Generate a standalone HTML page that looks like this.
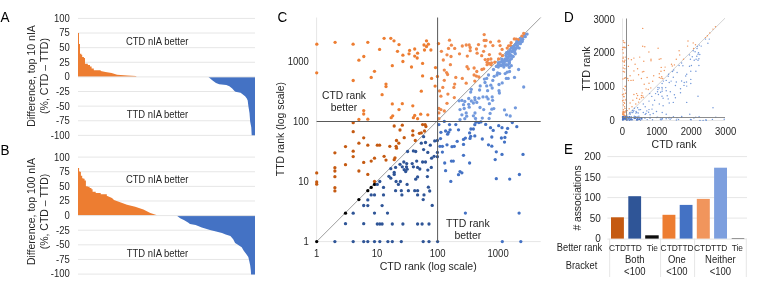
<!DOCTYPE html>
<html><head><meta charset="utf-8"><style>
html,body{margin:0;padding:0;background:#fff;width:764px;height:292px;overflow:hidden}
svg{display:block;will-change:transform;filter:blur(0.3px)}
text{font-family:"Liberation Sans", sans-serif;stroke:currentColor;stroke-width:0}
</style></head><body>
<svg width="764" height="292" viewBox="0 0 764 292" shape-rendering="auto">
<rect width="764" height="292" fill="#fff"/>
<line x1="78.00" y1="18.42" x2="255.00" y2="18.42" stroke="#e6e6e6" stroke-width="1"/>
<text transform="translate(69.80 21.82) scale(1 1.08)" font-size="9.5" text-anchor="end" fill="#262626" stroke="#262626" stroke-width="0.08">100</text>
<line x1="78.00" y1="33.04" x2="255.00" y2="33.04" stroke="#e6e6e6" stroke-width="1"/>
<text transform="translate(69.80 36.44) scale(1 1.08)" font-size="9.5" text-anchor="end" fill="#262626" stroke="#262626" stroke-width="0.08">75</text>
<line x1="78.00" y1="47.66" x2="255.00" y2="47.66" stroke="#e6e6e6" stroke-width="1"/>
<text transform="translate(69.80 51.06) scale(1 1.08)" font-size="9.5" text-anchor="end" fill="#262626" stroke="#262626" stroke-width="0.08">50</text>
<line x1="78.00" y1="62.28" x2="255.00" y2="62.28" stroke="#e6e6e6" stroke-width="1"/>
<text transform="translate(69.80 65.68) scale(1 1.08)" font-size="9.5" text-anchor="end" fill="#262626" stroke="#262626" stroke-width="0.08">25</text>
<text transform="translate(69.80 80.30) scale(1 1.08)" font-size="9.5" text-anchor="end" fill="#262626" stroke="#262626" stroke-width="0.08">0</text>
<line x1="78.00" y1="91.52" x2="255.00" y2="91.52" stroke="#e6e6e6" stroke-width="1"/>
<text transform="translate(69.80 94.92) scale(1 1.08)" font-size="9.5" text-anchor="end" fill="#262626" stroke="#262626" stroke-width="0.08">-25</text>
<line x1="78.00" y1="106.14" x2="255.00" y2="106.14" stroke="#e6e6e6" stroke-width="1"/>
<text transform="translate(69.80 109.54) scale(1 1.08)" font-size="9.5" text-anchor="end" fill="#262626" stroke="#262626" stroke-width="0.08">-50</text>
<line x1="78.00" y1="120.76" x2="255.00" y2="120.76" stroke="#e6e6e6" stroke-width="1"/>
<text transform="translate(69.80 124.16) scale(1 1.08)" font-size="9.5" text-anchor="end" fill="#262626" stroke="#262626" stroke-width="0.08">-75</text>
<line x1="78.00" y1="135.38" x2="255.00" y2="135.38" stroke="#e6e6e6" stroke-width="1"/>
<text transform="translate(69.80 138.78) scale(1 1.08)" font-size="9.5" text-anchor="end" fill="#262626" stroke="#262626" stroke-width="0.08">-100</text>
<polygon points="78.00,76.90 78.00,33.00 79.00,33.00 79.00,44.00 80.00,44.00 80.00,53.80 81.30,53.80 81.30,54.70 82.20,54.70 82.20,57.10 83.90,57.10 83.90,58.00 85.00,58.00 85.00,63.70 87.80,63.70 87.80,64.90 90.00,64.90 90.00,66.50 91.60,66.50 91.60,68.60 93.80,68.60 93.80,70.30 100.70,70.30 100.70,71.10 105.50,72.10 111.60,73.00 117.10,74.70 127.40,75.40 136.00,76.00 136.50,76.90 136.50,76.90" fill="#ED7D31"/>
<polygon points="208.50,76.90 208.50,76.90 210.50,78.70 212.90,80.70 216.00,83.00 219.20,84.20 226.30,85.00 229.40,86.20 232.20,88.50 234.50,90.90 235.50,91.70 240.60,92.80 245.10,96.20 246.80,98.40 247.70,100.60 248.40,106.20 249.50,112.90 250.20,121.80 251.30,127.40 251.70,135.20 255.00,135.20 255.00,76.90" fill="#4472C4"/>
<line x1="78.00" y1="76.90" x2="255.00" y2="76.90" stroke="#e6e6e6" stroke-width="1"/>
<text transform="translate(0.60 21.60) scale(1 1.04)" font-size="13.5" text-anchor="start" fill="#000" stroke="#000" stroke-width="0.08">A</text>
<text transform="translate(34.80 76.00) rotate(-90) scale(1 1.04)" font-size="10.55" text-anchor="middle" fill="#262626" stroke="#262626" stroke-width="0.08">Difference, top 10 nIA</text>
<text transform="translate(47.60 76.00) rotate(-90) scale(1 1.04)" font-size="10.55" text-anchor="middle" fill="#262626" stroke="#262626" stroke-width="0.08">(%, CTD – TTD)</text>
<text transform="translate(125.90 44.50) scale(1 1.08)" font-size="9.45" text-anchor="start" fill="#262626" stroke="#262626" stroke-width="0.08">CTD nIA better</text>
<text transform="translate(126.80 117.90) scale(1 1.08)" font-size="9.45" text-anchor="start" fill="#262626" stroke="#262626" stroke-width="0.08">TTD nIA better</text>
<line x1="78.00" y1="157.12" x2="255.00" y2="157.12" stroke="#e6e6e6" stroke-width="1"/>
<text transform="translate(69.80 160.52) scale(1 1.08)" font-size="9.5" text-anchor="end" fill="#262626" stroke="#262626" stroke-width="0.08">100</text>
<line x1="78.00" y1="171.74" x2="255.00" y2="171.74" stroke="#e6e6e6" stroke-width="1"/>
<text transform="translate(69.80 175.14) scale(1 1.08)" font-size="9.5" text-anchor="end" fill="#262626" stroke="#262626" stroke-width="0.08">75</text>
<line x1="78.00" y1="186.36" x2="255.00" y2="186.36" stroke="#e6e6e6" stroke-width="1"/>
<text transform="translate(69.80 189.76) scale(1 1.08)" font-size="9.5" text-anchor="end" fill="#262626" stroke="#262626" stroke-width="0.08">50</text>
<line x1="78.00" y1="200.98" x2="255.00" y2="200.98" stroke="#e6e6e6" stroke-width="1"/>
<text transform="translate(69.80 204.38) scale(1 1.08)" font-size="9.5" text-anchor="end" fill="#262626" stroke="#262626" stroke-width="0.08">25</text>
<text transform="translate(69.80 219.00) scale(1 1.08)" font-size="9.5" text-anchor="end" fill="#262626" stroke="#262626" stroke-width="0.08">0</text>
<line x1="78.00" y1="230.22" x2="255.00" y2="230.22" stroke="#e6e6e6" stroke-width="1"/>
<text transform="translate(69.80 233.62) scale(1 1.08)" font-size="9.5" text-anchor="end" fill="#262626" stroke="#262626" stroke-width="0.08">-25</text>
<line x1="78.00" y1="244.84" x2="255.00" y2="244.84" stroke="#e6e6e6" stroke-width="1"/>
<text transform="translate(69.80 248.24) scale(1 1.08)" font-size="9.5" text-anchor="end" fill="#262626" stroke="#262626" stroke-width="0.08">-50</text>
<line x1="78.00" y1="259.46" x2="255.00" y2="259.46" stroke="#e6e6e6" stroke-width="1"/>
<text transform="translate(69.80 262.86) scale(1 1.08)" font-size="9.5" text-anchor="end" fill="#262626" stroke="#262626" stroke-width="0.08">-75</text>
<line x1="78.00" y1="274.08" x2="255.00" y2="274.08" stroke="#e6e6e6" stroke-width="1"/>
<text transform="translate(69.80 277.48) scale(1 1.08)" font-size="9.5" text-anchor="end" fill="#262626" stroke="#262626" stroke-width="0.08">-100</text>
<polygon points="78.00,215.60 78.00,168.00 79.10,168.00 79.10,171.40 80.30,171.40 80.30,172.00 80.90,172.00 80.90,175.70 82.20,175.70 82.20,178.20 83.40,178.20 83.40,178.80 84.60,178.80 84.60,180.60 85.90,180.60 85.90,186.20 87.70,186.20 87.70,186.80 89.60,186.80 89.60,188.00 91.40,188.00 91.40,189.30 92.60,189.30 92.60,191.70 95.70,191.70 95.70,193.00 100.70,193.00 100.70,194.20 106.80,194.20 106.80,195.80 112.00,197.90 114.00,199.90 127.00,204.70 135.20,206.70 143.40,209.50 150.30,212.90 157.10,215.30 157.10,215.60" fill="#ED7D31"/>
<polygon points="176.60,215.60 176.60,215.60 180.20,218.20 184.30,220.30 188.40,222.80 190.00,223.90 195.60,224.90 201.80,227.50 210.00,230.00 216.10,231.60 222.00,233.10 225.70,234.40 230.40,236.00 233.20,239.20 235.10,242.90 237.90,244.80 241.70,247.30 243.60,250.50 246.40,254.20 248.30,257.10 249.20,260.80 250.20,265.60 250.80,270.30 251.10,274.40 255.00,274.40 255.00,215.60" fill="#4472C4"/>
<line x1="78.00" y1="215.60" x2="255.00" y2="215.60" stroke="#e6e6e6" stroke-width="1"/>
<text transform="translate(0.60 154.50) scale(1 1.04)" font-size="13.5" text-anchor="start" fill="#000" stroke="#000" stroke-width="0.08">B</text>
<text transform="translate(34.80 211.50) rotate(-90) scale(1 1.04)" font-size="10.5" text-anchor="middle" fill="#262626" stroke="#262626" stroke-width="0.08">Difference, top 100 nIA</text>
<text transform="translate(47.60 211.50) rotate(-90) scale(1 1.04)" font-size="10.5" text-anchor="middle" fill="#262626" stroke="#262626" stroke-width="0.08">(%, CTD – TTD)</text>
<text transform="translate(125.90 183.20) scale(1 1.08)" font-size="9.45" text-anchor="start" fill="#262626" stroke="#262626" stroke-width="0.08">CTD nIA better</text>
<text transform="translate(126.80 256.60) scale(1 1.08)" font-size="9.45" text-anchor="start" fill="#262626" stroke="#262626" stroke-width="0.08">TTD nIA better</text>
<line x1="316.60" y1="17.50" x2="316.60" y2="241.60" stroke="#e6e6e6" stroke-width="1"/>
<line x1="316.60" y1="241.60" x2="540.70" y2="241.60" stroke="#e6e6e6" stroke-width="1"/>
<line x1="316.60" y1="241.60" x2="540.70" y2="17.50" stroke="#8a8a8a" stroke-width="0.85"/>
<circle cx="524.7" cy="34.4" r="1.65" fill="#739ADD"/>
<circle cx="527.1" cy="34.1" r="1.65" fill="#739ADD"/>
<circle cx="522.8" cy="36.5" r="1.65" fill="#739ADD"/>
<circle cx="525.3" cy="36.7" r="1.65" fill="#739ADD"/>
<circle cx="520.3" cy="39.0" r="1.65" fill="#739ADD"/>
<circle cx="522.7" cy="39.3" r="1.65" fill="#739ADD"/>
<circle cx="518.3" cy="41.3" r="1.65" fill="#739ADD"/>
<circle cx="520.7" cy="41.2" r="1.65" fill="#739ADD"/>
<circle cx="522.2" cy="41.5" r="1.65" fill="#739ADD"/>
<circle cx="516.1" cy="43.7" r="1.65" fill="#739ADD"/>
<circle cx="518.6" cy="43.2" r="1.65" fill="#739ADD"/>
<circle cx="520.4" cy="43.7" r="1.65" fill="#739ADD"/>
<circle cx="515.7" cy="45.2" r="1.65" fill="#739ADD"/>
<circle cx="512.0" cy="47.5" r="1.65" fill="#739ADD"/>
<circle cx="514.0" cy="47.6" r="1.65" fill="#739ADD"/>
<circle cx="516.5" cy="48.1" r="1.65" fill="#739ADD"/>
<circle cx="519.2" cy="48.1" r="1.65" fill="#739ADD"/>
<circle cx="514.8" cy="50.4" r="1.65" fill="#739ADD"/>
<circle cx="508.2" cy="51.8" r="1.65" fill="#739ADD"/>
<circle cx="512.3" cy="51.7" r="1.65" fill="#739ADD"/>
<circle cx="508.6" cy="54.2" r="1.65" fill="#739ADD"/>
<circle cx="510.4" cy="54.6" r="1.65" fill="#739ADD"/>
<circle cx="515.3" cy="53.8" r="1.65" fill="#739ADD"/>
<circle cx="506.8" cy="57.0" r="1.65" fill="#739ADD"/>
<circle cx="509.2" cy="56.3" r="1.65" fill="#739ADD"/>
<circle cx="511.1" cy="56.0" r="1.65" fill="#739ADD"/>
<circle cx="513.2" cy="56.6" r="1.65" fill="#739ADD"/>
<circle cx="501.7" cy="59.1" r="1.65" fill="#739ADD"/>
<circle cx="504.9" cy="59.1" r="1.65" fill="#739ADD"/>
<circle cx="506.7" cy="58.7" r="1.65" fill="#739ADD"/>
<circle cx="511.4" cy="58.8" r="1.65" fill="#739ADD"/>
<circle cx="502.4" cy="61.1" r="1.65" fill="#739ADD"/>
<circle cx="504.6" cy="61.4" r="1.65" fill="#739ADD"/>
<circle cx="507.2" cy="60.4" r="1.65" fill="#739ADD"/>
<circle cx="509.5" cy="60.4" r="1.65" fill="#739ADD"/>
<circle cx="498.4" cy="62.7" r="1.65" fill="#739ADD"/>
<circle cx="503.1" cy="63.0" r="1.65" fill="#739ADD"/>
<circle cx="509.3" cy="63.3" r="1.65" fill="#739ADD"/>
<circle cx="498.6" cy="65.4" r="1.65" fill="#739ADD"/>
<circle cx="500.8" cy="65.1" r="1.65" fill="#739ADD"/>
<circle cx="503.3" cy="65.1" r="1.65" fill="#739ADD"/>
<circle cx="505.8" cy="64.8" r="1.65" fill="#739ADD"/>
<circle cx="508.1" cy="65.1" r="1.65" fill="#739ADD"/>
<circle cx="316.8" cy="44.2" r="1.65" fill="#ED7D31"/>
<circle cx="335.1" cy="42.3" r="1.65" fill="#ED7D31"/>
<circle cx="353.1" cy="44.2" r="1.65" fill="#ED7D31"/>
<circle cx="358.9" cy="60.2" r="1.65" fill="#ED7D31"/>
<circle cx="363.8" cy="56.5" r="1.65" fill="#ED7D31"/>
<circle cx="316.7" cy="72.8" r="1.65" fill="#ED7D31"/>
<circle cx="353.2" cy="80.5" r="1.65" fill="#ED7D31"/>
<circle cx="363.7" cy="110.6" r="1.65" fill="#ED7D31"/>
<circle cx="363.7" cy="114.0" r="1.65" fill="#ED7D31"/>
<circle cx="358.9" cy="119.4" r="1.65" fill="#ED7D31"/>
<circle cx="353.2" cy="122.7" r="1.65" fill="#C55A11"/>
<circle cx="353.2" cy="131.7" r="1.65" fill="#C55A11"/>
<circle cx="363.7" cy="137.8" r="1.65" fill="#C55A11"/>
<circle cx="358.9" cy="143.2" r="1.65" fill="#C55A11"/>
<circle cx="345.5" cy="146.6" r="1.65" fill="#C55A11"/>
<circle cx="334.9" cy="152.8" r="1.65" fill="#C55A11"/>
<circle cx="353.2" cy="151.2" r="1.65" fill="#C55A11"/>
<circle cx="353.2" cy="156.6" r="1.65" fill="#C55A11"/>
<circle cx="363.7" cy="162.4" r="1.65" fill="#C55A11"/>
<circle cx="345.5" cy="164.7" r="1.65" fill="#C55A11"/>
<circle cx="334.9" cy="167.7" r="1.65" fill="#C55A11"/>
<circle cx="334.9" cy="171.0" r="1.65" fill="#C55A11"/>
<circle cx="358.9" cy="171.0" r="1.65" fill="#C55A11"/>
<circle cx="316.7" cy="172.9" r="1.65" fill="#C55A11"/>
<circle cx="334.9" cy="176.7" r="1.65" fill="#C55A11"/>
<circle cx="316.7" cy="181.9" r="1.65" fill="#C55A11"/>
<circle cx="316.7" cy="184.2" r="1.65" fill="#C55A11"/>
<circle cx="334.9" cy="187.7" r="1.65" fill="#C55A11"/>
<circle cx="334.9" cy="190.9" r="1.65" fill="#C55A11"/>
<circle cx="316.7" cy="241.6" r="1.65" fill="#000"/>
<circle cx="345.5" cy="213.2" r="1.65" fill="#000"/>
<circle cx="358.9" cy="199.6" r="1.65" fill="#000"/>
<circle cx="353.2" cy="213.2" r="1.65" fill="#2F5597"/>
<circle cx="363.7" cy="205.5" r="1.65" fill="#2F5597"/>
<circle cx="345.5" cy="223.7" r="1.65" fill="#2F5597"/>
<circle cx="363.7" cy="223.7" r="1.65" fill="#2F5597"/>
<circle cx="334.9" cy="241.6" r="1.65" fill="#2F5597"/>
<circle cx="353.2" cy="241.6" r="1.65" fill="#2F5597"/>
<circle cx="363.7" cy="241.6" r="1.65" fill="#2F5597"/>
<circle cx="367.8" cy="42.3" r="1.65" fill="#ED7D31"/>
<circle cx="384.1" cy="38.3" r="1.65" fill="#ED7D31"/>
<circle cx="390.8" cy="38.3" r="1.65" fill="#ED7D31"/>
<circle cx="394.0" cy="40.8" r="1.65" fill="#ED7D31"/>
<circle cx="399.0" cy="44.6" r="1.65" fill="#ED7D31"/>
<circle cx="379.6" cy="49.4" r="1.65" fill="#ED7D31"/>
<circle cx="397.5" cy="51.3" r="1.65" fill="#ED7D31"/>
<circle cx="402.9" cy="55.2" r="1.65" fill="#ED7D31"/>
<circle cx="402.9" cy="61.5" r="1.65" fill="#ED7D31"/>
<circle cx="409.6" cy="50.4" r="1.65" fill="#ED7D31"/>
<circle cx="409.0" cy="53.8" r="1.65" fill="#ED7D31"/>
<circle cx="414.7" cy="49.0" r="1.65" fill="#ED7D31"/>
<circle cx="414.7" cy="56.1" r="1.65" fill="#ED7D31"/>
<circle cx="417.6" cy="53.2" r="1.65" fill="#ED7D31"/>
<circle cx="417.2" cy="58.0" r="1.65" fill="#ED7D31"/>
<circle cx="392.3" cy="65.7" r="1.65" fill="#ED7D31"/>
<circle cx="411.5" cy="67.0" r="1.65" fill="#ED7D31"/>
<circle cx="374.5" cy="71.3" r="1.65" fill="#ED7D31"/>
<circle cx="371.2" cy="77.4" r="1.65" fill="#ED7D31"/>
<circle cx="386.0" cy="84.1" r="1.65" fill="#ED7D31"/>
<circle cx="386.0" cy="86.6" r="1.65" fill="#ED7D31"/>
<circle cx="382.1" cy="94.7" r="1.65" fill="#ED7D31"/>
<circle cx="392.3" cy="103.9" r="1.65" fill="#ED7D31"/>
<circle cx="402.3" cy="103.7" r="1.65" fill="#ED7D31"/>
<circle cx="412.8" cy="105.8" r="1.65" fill="#ED7D31"/>
<circle cx="399.0" cy="109.6" r="1.65" fill="#ED7D31"/>
<circle cx="392.7" cy="115.8" r="1.65" fill="#ED7D31"/>
<circle cx="391.2" cy="117.7" r="1.65" fill="#ED7D31"/>
<circle cx="414.7" cy="115.4" r="1.65" fill="#ED7D31"/>
<circle cx="413.4" cy="117.7" r="1.65" fill="#ED7D31"/>
<circle cx="367.8" cy="119.2" r="1.65" fill="#ED7D31"/>
<circle cx="417.6" cy="118.7" r="1.65" fill="#ED7D31"/>
<circle cx="394.2" cy="126.0" r="1.65" fill="#C55A11"/>
<circle cx="402.3" cy="125.2" r="1.65" fill="#C55A11"/>
<circle cx="400.0" cy="130.0" r="1.65" fill="#C55A11"/>
<circle cx="412.8" cy="130.8" r="1.65" fill="#C55A11"/>
<circle cx="412.8" cy="135.2" r="1.65" fill="#C55A11"/>
<circle cx="404.2" cy="137.7" r="1.65" fill="#C55A11"/>
<circle cx="396.5" cy="140.5" r="1.65" fill="#C55A11"/>
<circle cx="398.8" cy="143.2" r="1.65" fill="#C55A11"/>
<circle cx="415.3" cy="140.5" r="1.65" fill="#C55A11"/>
<circle cx="367.8" cy="145.2" r="1.65" fill="#C55A11"/>
<circle cx="377.3" cy="145.2" r="1.65" fill="#C55A11"/>
<circle cx="379.6" cy="145.2" r="1.65" fill="#C55A11"/>
<circle cx="389.8" cy="146.3" r="1.65" fill="#C55A11"/>
<circle cx="396.1" cy="146.3" r="1.65" fill="#C55A11"/>
<circle cx="396.5" cy="148.2" r="1.65" fill="#C55A11"/>
<circle cx="384.1" cy="156.3" r="1.65" fill="#C55A11"/>
<circle cx="374.5" cy="158.2" r="1.65" fill="#C55A11"/>
<circle cx="371.2" cy="161.1" r="1.65" fill="#C55A11"/>
<circle cx="386.0" cy="160.1" r="1.65" fill="#C55A11"/>
<circle cx="395.0" cy="157.8" r="1.65" fill="#C55A11"/>
<circle cx="394.2" cy="159.7" r="1.65" fill="#C55A11"/>
<circle cx="407.6" cy="151.5" r="1.65" fill="#2F5597"/>
<circle cx="413.4" cy="150.9" r="1.65" fill="#2F5597"/>
<circle cx="415.7" cy="151.5" r="1.65" fill="#2F5597"/>
<circle cx="403.8" cy="162.0" r="1.65" fill="#2F5597"/>
<circle cx="406.7" cy="163.6" r="1.65" fill="#2F5597"/>
<circle cx="412.2" cy="163.6" r="1.65" fill="#2F5597"/>
<circle cx="416.7" cy="161.1" r="1.65" fill="#2F5597"/>
<circle cx="400.0" cy="164.3" r="1.65" fill="#2F5597"/>
<circle cx="402.3" cy="166.8" r="1.65" fill="#2F5597"/>
<circle cx="406.5" cy="166.8" r="1.65" fill="#2F5597"/>
<circle cx="395.6" cy="167.4" r="1.65" fill="#2F5597"/>
<circle cx="390.8" cy="168.7" r="1.65" fill="#2F5597"/>
<circle cx="413.4" cy="166.8" r="1.65" fill="#2F5597"/>
<circle cx="404.2" cy="169.7" r="1.65" fill="#2F5597"/>
<circle cx="417.6" cy="167.4" r="1.65" fill="#2F5597"/>
<circle cx="367.8" cy="174.4" r="1.65" fill="#C55A11"/>
<circle cx="374.5" cy="181.5" r="1.65" fill="#C55A11"/>
<circle cx="367.8" cy="190.7" r="1.65" fill="#000"/>
<circle cx="371.2" cy="187.4" r="1.65" fill="#000"/>
<circle cx="374.5" cy="184.4" r="1.65" fill="#000"/>
<circle cx="377.3" cy="184.4" r="1.65" fill="#2F5597"/>
<circle cx="379.8" cy="181.5" r="1.65" fill="#2F5597"/>
<circle cx="383.5" cy="187.4" r="1.65" fill="#2F5597"/>
<circle cx="371.2" cy="194.9" r="1.65" fill="#2F5597"/>
<circle cx="374.5" cy="194.9" r="1.65" fill="#2F5597"/>
<circle cx="383.5" cy="194.9" r="1.65" fill="#2F5597"/>
<circle cx="367.8" cy="199.9" r="1.65" fill="#2F5597"/>
<circle cx="367.8" cy="205.6" r="1.65" fill="#2F5597"/>
<circle cx="382.1" cy="205.6" r="1.65" fill="#2F5597"/>
<circle cx="374.5" cy="213.1" r="1.65" fill="#2F5597"/>
<circle cx="387.5" cy="213.1" r="1.65" fill="#2F5597"/>
<circle cx="388.9" cy="176.3" r="1.65" fill="#2F5597"/>
<circle cx="390.8" cy="178.2" r="1.65" fill="#2F5597"/>
<circle cx="394.2" cy="172.5" r="1.65" fill="#2F5597"/>
<circle cx="394.2" cy="174.4" r="1.65" fill="#2F5597"/>
<circle cx="407.1" cy="169.2" r="1.65" fill="#2F5597"/>
<circle cx="405.7" cy="171.5" r="1.65" fill="#2F5597"/>
<circle cx="415.7" cy="179.2" r="1.65" fill="#2F5597"/>
<circle cx="417.6" cy="176.9" r="1.65" fill="#2F5597"/>
<circle cx="396.1" cy="181.5" r="1.65" fill="#2F5597"/>
<circle cx="400.4" cy="181.5" r="1.65" fill="#2F5597"/>
<circle cx="398.4" cy="184.4" r="1.65" fill="#2F5597"/>
<circle cx="407.1" cy="184.4" r="1.65" fill="#2F5597"/>
<circle cx="395.6" cy="190.7" r="1.65" fill="#2F5597"/>
<circle cx="401.3" cy="190.7" r="1.65" fill="#2F5597"/>
<circle cx="408.4" cy="190.7" r="1.65" fill="#2F5597"/>
<circle cx="414.7" cy="190.7" r="1.65" fill="#2F5597"/>
<circle cx="417.6" cy="190.7" r="1.65" fill="#2F5597"/>
<circle cx="401.9" cy="194.9" r="1.65" fill="#2F5597"/>
<circle cx="417.6" cy="194.9" r="1.65" fill="#2F5597"/>
<circle cx="377.3" cy="224.0" r="1.65" fill="#2F5597"/>
<circle cx="379.8" cy="224.0" r="1.65" fill="#2F5597"/>
<circle cx="382.1" cy="224.0" r="1.65" fill="#2F5597"/>
<circle cx="392.3" cy="224.0" r="1.65" fill="#2F5597"/>
<circle cx="402.9" cy="224.0" r="1.65" fill="#2F5597"/>
<circle cx="417.6" cy="224.0" r="1.65" fill="#2F5597"/>
<circle cx="367.8" cy="241.6" r="1.65" fill="#2F5597"/>
<circle cx="374.5" cy="241.6" r="1.65" fill="#2F5597"/>
<circle cx="379.8" cy="241.6" r="1.65" fill="#2F5597"/>
<circle cx="387.9" cy="241.6" r="1.65" fill="#2F5597"/>
<circle cx="392.3" cy="241.6" r="1.65" fill="#2F5597"/>
<circle cx="401.3" cy="241.6" r="1.65" fill="#2F5597"/>
<circle cx="422.6" cy="63.4" r="1.65" fill="#ED7D31"/>
<circle cx="424.0" cy="45.0" r="1.65" fill="#ED7D31"/>
<circle cx="426.5" cy="40.8" r="1.65" fill="#ED7D31"/>
<circle cx="428.4" cy="44.2" r="1.65" fill="#ED7D31"/>
<circle cx="426.5" cy="46.5" r="1.65" fill="#ED7D31"/>
<circle cx="424.5" cy="50.0" r="1.65" fill="#ED7D31"/>
<circle cx="430.9" cy="50.0" r="1.65" fill="#ED7D31"/>
<circle cx="438.5" cy="43.6" r="1.65" fill="#ED7D31"/>
<circle cx="441.4" cy="51.3" r="1.65" fill="#EF8A4C"/>
<circle cx="443.3" cy="60.0" r="1.65" fill="#EF8A4C"/>
<circle cx="449.5" cy="40.2" r="1.65" fill="#EF8A4C"/>
<circle cx="451.4" cy="45.2" r="1.65" fill="#EF8A4C"/>
<circle cx="448.5" cy="48.4" r="1.65" fill="#EF8A4C"/>
<circle cx="454.7" cy="48.4" r="1.65" fill="#EF8A4C"/>
<circle cx="447.0" cy="54.8" r="1.65" fill="#EF8A4C"/>
<circle cx="451.0" cy="56.5" r="1.65" fill="#EF8A4C"/>
<circle cx="450.4" cy="64.7" r="1.65" fill="#EF8A4C"/>
<circle cx="459.5" cy="53.8" r="1.65" fill="#EF8A4C"/>
<circle cx="462.3" cy="46.0" r="1.65" fill="#EF8A4C"/>
<circle cx="466.2" cy="45.0" r="1.65" fill="#EF8A4C"/>
<circle cx="469.2" cy="45.0" r="1.65" fill="#EF8A4C"/>
<circle cx="467.3" cy="56.1" r="1.65" fill="#EF8A4C"/>
<circle cx="435.5" cy="67.6" r="1.65" fill="#ED7D31"/>
<circle cx="422.6" cy="75.9" r="1.65" fill="#ED7D31"/>
<circle cx="431.6" cy="78.4" r="1.65" fill="#ED7D31"/>
<circle cx="437.4" cy="76.5" r="1.65" fill="#ED7D31"/>
<circle cx="444.3" cy="70.1" r="1.65" fill="#EF8A4C"/>
<circle cx="446.6" cy="72.6" r="1.65" fill="#EF8A4C"/>
<circle cx="447.6" cy="74.5" r="1.65" fill="#EF8A4C"/>
<circle cx="444.3" cy="80.3" r="1.65" fill="#EF8A4C"/>
<circle cx="455.8" cy="77.4" r="1.65" fill="#EF8A4C"/>
<circle cx="462.3" cy="78.4" r="1.65" fill="#EF8A4C"/>
<circle cx="468.3" cy="68.8" r="1.65" fill="#EF8A4C"/>
<circle cx="454.7" cy="84.1" r="1.65" fill="#EF8A4C"/>
<circle cx="466.2" cy="83.2" r="1.65" fill="#EF8A4C"/>
<circle cx="435.1" cy="86.1" r="1.65" fill="#ED7D31"/>
<circle cx="442.8" cy="87.4" r="1.65" fill="#EF8A4C"/>
<circle cx="453.9" cy="87.4" r="1.65" fill="#EF8A4C"/>
<circle cx="421.3" cy="91.2" r="1.65" fill="#ED7D31"/>
<circle cx="439.5" cy="90.9" r="1.65" fill="#EF8A4C"/>
<circle cx="447.9" cy="94.1" r="1.65" fill="#EF8A4C"/>
<circle cx="440.9" cy="96.2" r="1.65" fill="#EF8A4C"/>
<circle cx="454.3" cy="97.6" r="1.65" fill="#EF8A4C"/>
<circle cx="447.0" cy="103.3" r="1.65" fill="#EF8A4C"/>
<circle cx="438.9" cy="108.5" r="1.65" fill="#EF8A4C"/>
<circle cx="440.9" cy="109.6" r="1.65" fill="#EF8A4C"/>
<circle cx="444.3" cy="111.0" r="1.65" fill="#EF8A4C"/>
<circle cx="438.9" cy="112.9" r="1.65" fill="#EF8A4C"/>
<circle cx="420.7" cy="114.2" r="1.65" fill="#ED7D31"/>
<circle cx="427.8" cy="114.8" r="1.65" fill="#ED7D31"/>
<circle cx="438.9" cy="118.7" r="1.65" fill="#EF8A4C"/>
<circle cx="459.1" cy="100.8" r="1.65" fill="#739ADD"/>
<circle cx="461.9" cy="100.4" r="1.65" fill="#739ADD"/>
<circle cx="464.8" cy="101.4" r="1.65" fill="#739ADD"/>
<circle cx="468.7" cy="98.5" r="1.65" fill="#739ADD"/>
<circle cx="463.5" cy="104.7" r="1.65" fill="#739ADD"/>
<circle cx="468.7" cy="104.3" r="1.65" fill="#739ADD"/>
<circle cx="460.0" cy="109.6" r="1.65" fill="#739ADD"/>
<circle cx="464.2" cy="108.5" r="1.65" fill="#739ADD"/>
<circle cx="469.2" cy="107.2" r="1.65" fill="#739ADD"/>
<circle cx="466.2" cy="112.9" r="1.65" fill="#739ADD"/>
<circle cx="461.9" cy="114.8" r="1.65" fill="#739ADD"/>
<circle cx="466.7" cy="116.2" r="1.65" fill="#739ADD"/>
<circle cx="464.8" cy="118.7" r="1.65" fill="#739ADD"/>
<circle cx="460.0" cy="119.6" r="1.65" fill="#739ADD"/>
<circle cx="422.6" cy="124.6" r="1.65" fill="#C55A11"/>
<circle cx="425.1" cy="124.6" r="1.65" fill="#C55A11"/>
<circle cx="425.9" cy="126.5" r="1.65" fill="#C55A11"/>
<circle cx="424.5" cy="131.0" r="1.65" fill="#C55A11"/>
<circle cx="419.4" cy="133.3" r="1.65" fill="#C55A11"/>
<circle cx="421.3" cy="132.9" r="1.65" fill="#C55A11"/>
<circle cx="423.6" cy="136.7" r="1.65" fill="#2F5597"/>
<circle cx="421.3" cy="143.2" r="1.65" fill="#2F5597"/>
<circle cx="425.5" cy="142.5" r="1.65" fill="#2F5597"/>
<circle cx="430.3" cy="145.2" r="1.65" fill="#2F5597"/>
<circle cx="434.7" cy="140.9" r="1.65" fill="#2F5597"/>
<circle cx="437.4" cy="140.5" r="1.65" fill="#2F5597"/>
<circle cx="423.6" cy="149.6" r="1.65" fill="#2F5597"/>
<circle cx="427.8" cy="152.4" r="1.65" fill="#2F5597"/>
<circle cx="434.1" cy="156.3" r="1.65" fill="#2F5597"/>
<circle cx="431.6" cy="158.2" r="1.65" fill="#2F5597"/>
<circle cx="437.4" cy="152.4" r="1.65" fill="#2F5597"/>
<circle cx="422.6" cy="162.0" r="1.65" fill="#2F5597"/>
<circle cx="425.5" cy="162.0" r="1.65" fill="#2F5597"/>
<circle cx="431.3" cy="167.4" r="1.65" fill="#2F5597"/>
<circle cx="427.8" cy="170.1" r="1.65" fill="#2F5597"/>
<circle cx="438.9" cy="124.6" r="1.65" fill="#4472C4"/>
<circle cx="444.3" cy="121.4" r="1.65" fill="#4472C4"/>
<circle cx="449.5" cy="124.6" r="1.65" fill="#4472C4"/>
<circle cx="455.8" cy="124.6" r="1.65" fill="#4472C4"/>
<circle cx="440.9" cy="132.3" r="1.65" fill="#4472C4"/>
<circle cx="445.6" cy="131.0" r="1.65" fill="#4472C4"/>
<circle cx="448.5" cy="132.3" r="1.65" fill="#4472C4"/>
<circle cx="447.6" cy="134.2" r="1.65" fill="#4472C4"/>
<circle cx="450.1" cy="129.8" r="1.65" fill="#4472C4"/>
<circle cx="458.5" cy="129.8" r="1.65" fill="#4472C4"/>
<circle cx="469.6" cy="132.9" r="1.65" fill="#4472C4"/>
<circle cx="440.5" cy="138.6" r="1.65" fill="#4472C4"/>
<circle cx="465.4" cy="138.1" r="1.65" fill="#4472C4"/>
<circle cx="463.5" cy="139.4" r="1.65" fill="#4472C4"/>
<circle cx="457.2" cy="141.3" r="1.65" fill="#4472C4"/>
<circle cx="439.9" cy="146.3" r="1.65" fill="#4472C4"/>
<circle cx="442.4" cy="146.3" r="1.65" fill="#4472C4"/>
<circle cx="447.0" cy="144.8" r="1.65" fill="#4472C4"/>
<circle cx="452.0" cy="146.7" r="1.65" fill="#4472C4"/>
<circle cx="454.3" cy="146.3" r="1.65" fill="#4472C4"/>
<circle cx="463.5" cy="144.4" r="1.65" fill="#4472C4"/>
<circle cx="442.4" cy="152.1" r="1.65" fill="#4472C4"/>
<circle cx="437.4" cy="156.7" r="1.65" fill="#2F5597"/>
<circle cx="463.5" cy="155.3" r="1.65" fill="#4472C4"/>
<circle cx="451.4" cy="161.1" r="1.65" fill="#4472C4"/>
<circle cx="453.3" cy="161.1" r="1.65" fill="#4472C4"/>
<circle cx="444.7" cy="163.0" r="1.65" fill="#4472C4"/>
<circle cx="469.6" cy="163.0" r="1.65" fill="#4472C4"/>
<circle cx="445.6" cy="170.7" r="1.65" fill="#4472C4"/>
<circle cx="460.0" cy="171.6" r="1.65" fill="#4472C4"/>
<circle cx="419.8" cy="169.0" r="1.65" fill="#2F5597"/>
<circle cx="427.4" cy="176.6" r="1.65" fill="#2F5597"/>
<circle cx="428.4" cy="187.2" r="1.65" fill="#2F5597"/>
<circle cx="429.7" cy="191.0" r="1.65" fill="#2F5597"/>
<circle cx="424.0" cy="194.9" r="1.65" fill="#2F5597"/>
<circle cx="423.2" cy="199.6" r="1.65" fill="#2F5597"/>
<circle cx="432.2" cy="205.4" r="1.65" fill="#2F5597"/>
<circle cx="458.5" cy="174.7" r="1.65" fill="#4472C4"/>
<circle cx="461.9" cy="172.8" r="1.65" fill="#4472C4"/>
<circle cx="450.8" cy="181.4" r="1.65" fill="#4472C4"/>
<circle cx="465.4" cy="213.1" r="1.65" fill="#4472C4"/>
<circle cx="422.1" cy="224.0" r="1.65" fill="#2F5597"/>
<circle cx="429.0" cy="224.0" r="1.65" fill="#2F5597"/>
<circle cx="423.2" cy="241.6" r="1.65" fill="#2F5597"/>
<circle cx="429.0" cy="241.6" r="1.65" fill="#2F5597"/>
<circle cx="437.6" cy="241.6" r="1.65" fill="#2F5597"/>
<circle cx="470.2" cy="47.5" r="1.65" fill="#EF8A4C"/>
<circle cx="470.2" cy="50.7" r="1.65" fill="#EF8A4C"/>
<circle cx="474.1" cy="68.0" r="1.65" fill="#EF8A4C"/>
<circle cx="476.5" cy="49.0" r="1.65" fill="#EF8A4C"/>
<circle cx="477.1" cy="53.2" r="1.65" fill="#EF8A4C"/>
<circle cx="478.5" cy="44.6" r="1.65" fill="#EF8A4C"/>
<circle cx="481.7" cy="55.7" r="1.65" fill="#EF8A4C"/>
<circle cx="483.6" cy="51.3" r="1.65" fill="#EF8A4C"/>
<circle cx="484.2" cy="34.6" r="1.65" fill="#EF8A4C"/>
<circle cx="484.2" cy="40.4" r="1.65" fill="#EF8A4C"/>
<circle cx="486.1" cy="40.4" r="1.65" fill="#EF8A4C"/>
<circle cx="485.2" cy="46.1" r="1.65" fill="#EF8A4C"/>
<circle cx="485.2" cy="59.6" r="1.65" fill="#EF8A4C"/>
<circle cx="487.1" cy="62.2" r="1.65" fill="#EF8A4C"/>
<circle cx="489.4" cy="54.6" r="1.65" fill="#EF8A4C"/>
<circle cx="490.5" cy="42.1" r="1.65" fill="#EF8A4C"/>
<circle cx="492.9" cy="45.6" r="1.65" fill="#EF8A4C"/>
<circle cx="490.9" cy="59.0" r="1.65" fill="#EF8A4C"/>
<circle cx="489.0" cy="63.4" r="1.65" fill="#EF8A4C"/>
<circle cx="487.1" cy="64.7" r="1.65" fill="#EF8A4C"/>
<circle cx="490.9" cy="64.7" r="1.65" fill="#EF8A4C"/>
<circle cx="494.8" cy="62.2" r="1.65" fill="#EF8A4C"/>
<circle cx="499.0" cy="41.2" r="1.65" fill="#EF8A4C"/>
<circle cx="500.1" cy="45.6" r="1.65" fill="#EF8A4C"/>
<circle cx="502.1" cy="49.4" r="1.65" fill="#EF8A4C"/>
<circle cx="500.1" cy="53.8" r="1.65" fill="#EF8A4C"/>
<circle cx="502.4" cy="55.7" r="1.65" fill="#EF8A4C"/>
<circle cx="498.6" cy="59.0" r="1.65" fill="#EF8A4C"/>
<circle cx="507.2" cy="48.1" r="1.65" fill="#EF8A4C"/>
<circle cx="511.1" cy="42.7" r="1.65" fill="#EF8A4C"/>
<circle cx="510.5" cy="45.6" r="1.65" fill="#EF8A4C"/>
<circle cx="509.2" cy="52.3" r="1.65" fill="#739ADD"/>
<circle cx="514.3" cy="38.9" r="1.65" fill="#EF8A4C"/>
<circle cx="516.2" cy="39.2" r="1.65" fill="#EF8A4C"/>
<circle cx="467.0" cy="66.7" r="1.65" fill="#EF8A4C"/>
<circle cx="508.6" cy="45.8" r="1.65" fill="#EF8A4C"/>
<circle cx="523.7" cy="33.5" r="1.65" fill="#EF8A4C"/>
<circle cx="488.1" cy="59.5" r="1.65" fill="#EF8A4C"/>
<circle cx="491.5" cy="62.9" r="1.65" fill="#EF8A4C"/>
<circle cx="521.9" cy="36.2" r="1.65" fill="#EF8A4C"/>
<circle cx="520.2" cy="38.3" r="1.65" fill="#739ADD"/>
<circle cx="518.2" cy="39.6" r="1.65" fill="#EF8A4C"/>
<circle cx="521.6" cy="40.3" r="1.65" fill="#739ADD"/>
<circle cx="516.8" cy="41.7" r="1.65" fill="#739ADD"/>
<circle cx="518.9" cy="43.1" r="1.65" fill="#739ADD"/>
<circle cx="515.5" cy="44.4" r="1.65" fill="#739ADD"/>
<circle cx="517.5" cy="45.8" r="1.65" fill="#739ADD"/>
<circle cx="513.4" cy="46.5" r="1.65" fill="#739ADD"/>
<circle cx="515.5" cy="48.5" r="1.65" fill="#739ADD"/>
<circle cx="511.3" cy="47.9" r="1.65" fill="#739ADD"/>
<circle cx="512.7" cy="50.6" r="1.65" fill="#739ADD"/>
<circle cx="514.8" cy="52.7" r="1.65" fill="#739ADD"/>
<circle cx="506.5" cy="52.7" r="1.65" fill="#739ADD"/>
<circle cx="509.3" cy="54.7" r="1.65" fill="#739ADD"/>
<circle cx="505.9" cy="55.4" r="1.65" fill="#739ADD"/>
<circle cx="512.7" cy="56.1" r="1.65" fill="#739ADD"/>
<circle cx="507.9" cy="58.1" r="1.65" fill="#739ADD"/>
<circle cx="510.7" cy="58.8" r="1.65" fill="#739ADD"/>
<circle cx="502.4" cy="60.2" r="1.65" fill="#739ADD"/>
<circle cx="505.9" cy="60.9" r="1.65" fill="#739ADD"/>
<circle cx="500.4" cy="62.2" r="1.65" fill="#739ADD"/>
<circle cx="509.3" cy="62.2" r="1.65" fill="#739ADD"/>
<circle cx="503.8" cy="63.6" r="1.65" fill="#739ADD"/>
<circle cx="498.3" cy="64.3" r="1.65" fill="#739ADD"/>
<circle cx="506.5" cy="65.0" r="1.65" fill="#739ADD"/>
<circle cx="501.1" cy="65.7" r="1.65" fill="#739ADD"/>
<circle cx="496.3" cy="66.4" r="1.65" fill="#739ADD"/>
<circle cx="498.3" cy="67.0" r="1.65" fill="#739ADD"/>
<circle cx="503.8" cy="67.0" r="1.65" fill="#739ADD"/>
<circle cx="511.3" cy="65.7" r="1.65" fill="#739ADD"/>
<circle cx="513.4" cy="48.5" r="1.65" fill="#739ADD"/>
<circle cx="509.3" cy="67.4" r="1.65" fill="#739ADD"/>
<circle cx="493.5" cy="69.5" r="1.65" fill="#739ADD"/>
<circle cx="518.6" cy="69.5" r="1.65" fill="#739ADD"/>
<circle cx="497.6" cy="72.9" r="1.65" fill="#739ADD"/>
<circle cx="499.7" cy="73.6" r="1.65" fill="#739ADD"/>
<circle cx="497.0" cy="75.0" r="1.65" fill="#739ADD"/>
<circle cx="505.2" cy="73.6" r="1.65" fill="#739ADD"/>
<circle cx="507.2" cy="72.2" r="1.65" fill="#739ADD"/>
<circle cx="509.6" cy="71.5" r="1.65" fill="#739ADD"/>
<circle cx="494.2" cy="76.3" r="1.65" fill="#739ADD"/>
<circle cx="488.5" cy="75.0" r="1.65" fill="#739ADD"/>
<circle cx="506.3" cy="78.4" r="1.65" fill="#739ADD"/>
<circle cx="508.2" cy="78.4" r="1.65" fill="#739ADD"/>
<circle cx="514.5" cy="77.4" r="1.65" fill="#739ADD"/>
<circle cx="486.7" cy="78.4" r="1.65" fill="#739ADD"/>
<circle cx="492.8" cy="80.4" r="1.65" fill="#739ADD"/>
<circle cx="499.0" cy="84.5" r="1.65" fill="#739ADD"/>
<circle cx="502.2" cy="82.9" r="1.65" fill="#739ADD"/>
<circle cx="490.8" cy="85.2" r="1.65" fill="#739ADD"/>
<circle cx="492.2" cy="88.0" r="1.65" fill="#739ADD"/>
<circle cx="486.7" cy="85.9" r="1.65" fill="#739ADD"/>
<circle cx="523.7" cy="87.0" r="1.65" fill="#739ADD"/>
<circle cx="487.6" cy="90.7" r="1.65" fill="#739ADD"/>
<circle cx="499.0" cy="90.7" r="1.65" fill="#739ADD"/>
<circle cx="499.4" cy="93.0" r="1.65" fill="#739ADD"/>
<circle cx="486.7" cy="96.9" r="1.65" fill="#739ADD"/>
<circle cx="492.2" cy="96.9" r="1.65" fill="#739ADD"/>
<circle cx="492.6" cy="100.3" r="1.65" fill="#739ADD"/>
<circle cx="488.1" cy="98.9" r="1.65" fill="#739ADD"/>
<circle cx="489.4" cy="103.7" r="1.65" fill="#739ADD"/>
<circle cx="476.8" cy="71.5" r="1.65" fill="#EF8A4C"/>
<circle cx="481.9" cy="69.5" r="1.65" fill="#EF8A4C"/>
<circle cx="483.7" cy="68.8" r="1.65" fill="#EF8A4C"/>
<circle cx="474.1" cy="75.0" r="1.65" fill="#EF8A4C"/>
<circle cx="476.4" cy="76.1" r="1.65" fill="#EF8A4C"/>
<circle cx="478.9" cy="77.0" r="1.65" fill="#EF8A4C"/>
<circle cx="474.8" cy="81.1" r="1.65" fill="#EF8A4C"/>
<circle cx="484.4" cy="79.1" r="1.65" fill="#739ADD"/>
<circle cx="485.0" cy="82.5" r="1.65" fill="#739ADD"/>
<circle cx="480.2" cy="85.9" r="1.65" fill="#739ADD"/>
<circle cx="479.6" cy="90.0" r="1.65" fill="#739ADD"/>
<circle cx="471.3" cy="89.3" r="1.65" fill="#739ADD"/>
<circle cx="470.7" cy="92.1" r="1.65" fill="#739ADD"/>
<circle cx="483.0" cy="96.9" r="1.65" fill="#739ADD"/>
<circle cx="478.9" cy="98.2" r="1.65" fill="#739ADD"/>
<circle cx="474.8" cy="97.6" r="1.65" fill="#739ADD"/>
<circle cx="475.0" cy="99.9" r="1.65" fill="#739ADD"/>
<circle cx="471.3" cy="101.0" r="1.65" fill="#739ADD"/>
<circle cx="473.4" cy="103.0" r="1.65" fill="#739ADD"/>
<circle cx="476.8" cy="102.4" r="1.65" fill="#739ADD"/>
<circle cx="480.0" cy="107.5" r="1.65" fill="#739ADD"/>
<circle cx="483.7" cy="109.6" r="1.65" fill="#739ADD"/>
<circle cx="475.0" cy="113.0" r="1.65" fill="#739ADD"/>
<circle cx="473.4" cy="115.8" r="1.65" fill="#739ADD"/>
<circle cx="475.5" cy="118.5" r="1.65" fill="#739ADD"/>
<circle cx="482.3" cy="118.1" r="1.65" fill="#739ADD"/>
<circle cx="476.1" cy="122.2" r="1.65" fill="#4472C4"/>
<circle cx="478.9" cy="122.6" r="1.65" fill="#4472C4"/>
<circle cx="480.9" cy="121.9" r="1.65" fill="#4472C4"/>
<circle cx="474.8" cy="124.7" r="1.65" fill="#4472C4"/>
<circle cx="485.7" cy="124.4" r="1.65" fill="#4472C4"/>
<circle cx="470.9" cy="129.0" r="1.65" fill="#4472C4"/>
<circle cx="473.4" cy="129.0" r="1.65" fill="#4472C4"/>
<circle cx="474.8" cy="135.9" r="1.65" fill="#4472C4"/>
<circle cx="470.7" cy="136.3" r="1.65" fill="#4472C4"/>
<circle cx="470.0" cy="138.4" r="1.65" fill="#4472C4"/>
<circle cx="482.3" cy="139.0" r="1.65" fill="#4472C4"/>
<circle cx="491.8" cy="109.2" r="1.65" fill="#739ADD"/>
<circle cx="493.8" cy="108.6" r="1.65" fill="#739ADD"/>
<circle cx="490.1" cy="113.4" r="1.65" fill="#739ADD"/>
<circle cx="489.1" cy="118.5" r="1.65" fill="#739ADD"/>
<circle cx="504.5" cy="109.9" r="1.65" fill="#739ADD"/>
<circle cx="515.4" cy="107.8" r="1.65" fill="#739ADD"/>
<circle cx="506.5" cy="114.8" r="1.65" fill="#739ADD"/>
<circle cx="510.2" cy="116.0" r="1.65" fill="#739ADD"/>
<circle cx="512.3" cy="122.6" r="1.65" fill="#4472C4"/>
<circle cx="490.5" cy="127.7" r="1.65" fill="#4472C4"/>
<circle cx="493.2" cy="130.4" r="1.65" fill="#4472C4"/>
<circle cx="498.7" cy="125.7" r="1.65" fill="#4472C4"/>
<circle cx="502.0" cy="127.7" r="1.65" fill="#4472C4"/>
<circle cx="507.6" cy="128.4" r="1.65" fill="#4472C4"/>
<circle cx="516.8" cy="126.7" r="1.65" fill="#4472C4"/>
<circle cx="506.1" cy="132.5" r="1.65" fill="#4472C4"/>
<circle cx="491.8" cy="137.0" r="1.65" fill="#4472C4"/>
<circle cx="501.4" cy="138.0" r="1.65" fill="#4472C4"/>
<circle cx="504.9" cy="137.4" r="1.65" fill="#4472C4"/>
<circle cx="504.5" cy="142.1" r="1.65" fill="#4472C4"/>
<circle cx="488.5" cy="144.8" r="1.65" fill="#4472C4"/>
<circle cx="491.8" cy="146.2" r="1.65" fill="#4472C4"/>
<circle cx="496.3" cy="151.8" r="1.65" fill="#4472C4"/>
<circle cx="502.0" cy="154.4" r="1.65" fill="#4472C4"/>
<circle cx="523.0" cy="154.4" r="1.65" fill="#4472C4"/>
<circle cx="495.2" cy="159.6" r="1.65" fill="#4472C4"/>
<circle cx="496.3" cy="178.7" r="1.65" fill="#4472C4"/>
<circle cx="519.1" cy="213.1" r="1.65" fill="#4472C4"/>
<circle cx="502.3" cy="241.6" r="1.65" fill="#4472C4"/>
<circle cx="520.8" cy="241.6" r="1.65" fill="#4472C4"/>
<circle cx="519.4" cy="174.5" r="1.65" fill="#4472C4"/>
<circle cx="509.7" cy="179.1" r="1.65" fill="#4472C4"/>
<circle cx="510.1" cy="50.4" r="1.65" fill="#739ADD"/>
<line x1="437.60" y1="17.50" x2="437.60" y2="241.60" stroke="#595959" stroke-width="1"/>
<line x1="316.60" y1="121.50" x2="540.70" y2="121.50" stroke="#595959" stroke-width="1"/>
<text transform="translate(308.90 245.40) scale(1 1.08)" font-size="9.5" text-anchor="end" fill="#262626" stroke="#262626" stroke-width="0.08">1</text>
<text transform="translate(316.60 256.50) scale(1 1.08)" font-size="9.5" text-anchor="middle" fill="#262626" stroke="#262626" stroke-width="0.08">1</text>
<text transform="translate(308.90 185.10) scale(1 1.08)" font-size="9.5" text-anchor="end" fill="#262626" stroke="#262626" stroke-width="0.08">10</text>
<text transform="translate(377.10 256.50) scale(1 1.08)" font-size="9.5" text-anchor="middle" fill="#262626" stroke="#262626" stroke-width="0.08">10</text>
<text transform="translate(308.90 124.80) scale(1 1.08)" font-size="9.5" text-anchor="end" fill="#262626" stroke="#262626" stroke-width="0.08">100</text>
<text transform="translate(437.60 256.50) scale(1 1.08)" font-size="9.5" text-anchor="middle" fill="#262626" stroke="#262626" stroke-width="0.08">100</text>
<text transform="translate(308.90 64.50) scale(1 1.08)" font-size="9.5" text-anchor="end" fill="#262626" stroke="#262626" stroke-width="0.08">1000</text>
<text transform="translate(498.10 256.50) scale(1 1.08)" font-size="9.5" text-anchor="middle" fill="#262626" stroke="#262626" stroke-width="0.08">1000</text>
<text transform="translate(428.20 270.30) scale(1 1.04)" font-size="10.6" text-anchor="middle" fill="#262626" stroke="#262626" stroke-width="0.08">CTD rank (log scale)</text>
<text transform="translate(283.90 129.10) rotate(-90) scale(1 1.04)" font-size="10.4" text-anchor="middle" fill="#262626" stroke="#262626" stroke-width="0.08">TTD rank (log scale)</text>
<text transform="translate(277.50 22.00) scale(1 1.04)" font-size="13.5" text-anchor="start" fill="#000" stroke="#000" stroke-width="0.08">C</text>
<text transform="translate(344.00 99.00) scale(1 1.04)" font-size="10.3" text-anchor="middle" fill="#262626" stroke="#262626" stroke-width="0.08">CTD rank</text>
<text transform="translate(344.00 110.60) scale(1 1.04)" font-size="10.3" text-anchor="middle" fill="#262626" stroke="#262626" stroke-width="0.08">better</text>
<text transform="translate(467.80 227.00) scale(1 1.04)" font-size="10.5" text-anchor="middle" fill="#262626" stroke="#262626" stroke-width="0.08">TTD rank</text>
<text transform="translate(467.80 238.60) scale(1 1.04)" font-size="10.5" text-anchor="middle" fill="#262626" stroke="#262626" stroke-width="0.08">better</text>
<line x1="622.50" y1="18.50" x2="622.50" y2="120.50" stroke="#e6e6e6" stroke-width="1"/>
<line x1="622.50" y1="120.50" x2="725.00" y2="120.50" stroke="#e6e6e6" stroke-width="1"/>
<line x1="622.30" y1="120.20" x2="725.00" y2="18.20" stroke="#c4c4c4" stroke-width="0.75"/>
<circle cx="642.7" cy="28.4" r="0.72" fill="#F0955A"/>
<circle cx="623.2" cy="40.7" r="0.72" fill="#F0955A"/>
<circle cx="628.4" cy="45.4" r="0.72" fill="#F0955A"/>
<circle cx="623.2" cy="47.5" r="0.72" fill="#F0955A"/>
<circle cx="624.9" cy="47.5" r="0.72" fill="#F0955A"/>
<circle cx="642.7" cy="46.2" r="0.72" fill="#F0955A"/>
<circle cx="644.8" cy="46.8" r="0.72" fill="#F0955A"/>
<circle cx="648.9" cy="52.0" r="0.72" fill="#F0955A"/>
<circle cx="658.1" cy="48.3" r="0.72" fill="#F0955A"/>
<circle cx="623.2" cy="53.0" r="0.72" fill="#F0955A"/>
<circle cx="623.2" cy="57.1" r="0.72" fill="#F0955A"/>
<circle cx="625.3" cy="57.1" r="0.72" fill="#F0955A"/>
<circle cx="624.9" cy="60.2" r="0.72" fill="#F0955A"/>
<circle cx="628.4" cy="58.8" r="0.72" fill="#F0955A"/>
<circle cx="631.4" cy="59.8" r="0.72" fill="#F0955A"/>
<circle cx="633.9" cy="58.1" r="0.72" fill="#F0955A"/>
<circle cx="639.7" cy="57.1" r="0.72" fill="#F0955A"/>
<circle cx="651.0" cy="59.2" r="0.72" fill="#F0955A"/>
<circle cx="643.8" cy="61.2" r="0.72" fill="#F0955A"/>
<circle cx="659.2" cy="59.2" r="0.72" fill="#F0955A"/>
<circle cx="624.2" cy="61.8" r="0.72" fill="#F0955A"/>
<circle cx="628.4" cy="66.4" r="0.72" fill="#F0955A"/>
<circle cx="635.1" cy="64.3" r="0.72" fill="#F0955A"/>
<circle cx="623.2" cy="68.0" r="0.72" fill="#F0955A"/>
<circle cx="624.9" cy="68.8" r="0.72" fill="#F0955A"/>
<circle cx="623.2" cy="71.5" r="0.72" fill="#F0955A"/>
<circle cx="637.6" cy="68.8" r="0.72" fill="#F0955A"/>
<circle cx="643.8" cy="71.5" r="0.72" fill="#F0955A"/>
<circle cx="661.2" cy="67.4" r="0.72" fill="#F0955A"/>
<circle cx="664.3" cy="70.5" r="0.72" fill="#F0955A"/>
<circle cx="671.5" cy="64.3" r="0.72" fill="#F0955A"/>
<circle cx="633.9" cy="70.9" r="0.72" fill="#F0955A"/>
<circle cx="642.4" cy="71.9" r="0.72" fill="#F0955A"/>
<circle cx="630.1" cy="75.7" r="0.72" fill="#F0955A"/>
<circle cx="638.6" cy="74.7" r="0.72" fill="#F0955A"/>
<circle cx="641.4" cy="78.5" r="0.72" fill="#F0955A"/>
<circle cx="647.1" cy="77.5" r="0.72" fill="#F0955A"/>
<circle cx="631.0" cy="80.4" r="0.72" fill="#F0955A"/>
<circle cx="644.2" cy="84.2" r="0.72" fill="#F0955A"/>
<circle cx="649.0" cy="83.2" r="0.72" fill="#F0955A"/>
<circle cx="652.7" cy="81.3" r="0.72" fill="#F0955A"/>
<circle cx="659.3" cy="77.5" r="0.72" fill="#F0955A"/>
<circle cx="650.8" cy="87.9" r="0.72" fill="#F0955A"/>
<circle cx="646.1" cy="88.9" r="0.72" fill="#F0955A"/>
<circle cx="633.9" cy="94.5" r="0.72" fill="#F0955A"/>
<circle cx="637.6" cy="95.5" r="0.72" fill="#F0955A"/>
<circle cx="641.4" cy="95.5" r="0.72" fill="#F0955A"/>
<circle cx="643.3" cy="97.4" r="0.72" fill="#F0955A"/>
<circle cx="636.7" cy="98.3" r="0.72" fill="#F0955A"/>
<circle cx="639.5" cy="99.2" r="0.72" fill="#F0955A"/>
<circle cx="632.9" cy="100.2" r="0.72" fill="#F0955A"/>
<circle cx="638.6" cy="102.1" r="0.72" fill="#F0955A"/>
<circle cx="630.1" cy="103.0" r="0.72" fill="#F0955A"/>
<circle cx="635.8" cy="104.0" r="0.72" fill="#F0955A"/>
<circle cx="632.0" cy="106.8" r="0.72" fill="#F0955A"/>
<circle cx="629.2" cy="108.7" r="0.72" fill="#F0955A"/>
<circle cx="627.3" cy="110.6" r="0.72" fill="#F0955A"/>
<circle cx="659.3" cy="73.8" r="0.72" fill="#F0955A"/>
<circle cx="653.7" cy="75.7" r="0.72" fill="#F0955A"/>
<circle cx="715.5" cy="26.7" r="0.72" fill="#F0955A"/>
<circle cx="713.0" cy="29.1" r="0.72" fill="#F0955A"/>
<circle cx="688.0" cy="41.0" r="0.72" fill="#F0955A"/>
<circle cx="693.2" cy="42.9" r="0.72" fill="#F0955A"/>
<circle cx="695.5" cy="44.8" r="0.72" fill="#F0955A"/>
<circle cx="687.6" cy="46.1" r="0.72" fill="#F0955A"/>
<circle cx="693.6" cy="48.5" r="0.72" fill="#F0955A"/>
<circle cx="679.1" cy="50.8" r="0.72" fill="#F0955A"/>
<circle cx="679.7" cy="54.9" r="0.72" fill="#F0955A"/>
<circle cx="676.3" cy="59.3" r="0.72" fill="#F0955A"/>
<circle cx="674.4" cy="64.9" r="0.72" fill="#F0955A"/>
<circle cx="683.5" cy="59.3" r="0.72" fill="#F0955A"/>
<circle cx="705.5" cy="37.6" r="0.72" fill="#F0955A"/>
<circle cx="709.8" cy="32.9" r="0.72" fill="#F0955A"/>
<circle cx="661.0" cy="78.3" r="0.72" fill="#F0955A"/>
<circle cx="668.6" cy="74.2" r="0.72" fill="#7096D8"/>
<circle cx="665.1" cy="67.1" r="0.72" fill="#F0955A"/>
<circle cx="661.0" cy="71.2" r="0.72" fill="#F0955A"/>
<circle cx="672.3" cy="66.0" r="0.72" fill="#F0955A"/>
<circle cx="659.3" cy="87.9" r="0.72" fill="#7096D8"/>
<circle cx="662.2" cy="88.9" r="0.72" fill="#7096D8"/>
<circle cx="657.5" cy="91.7" r="0.72" fill="#7096D8"/>
<circle cx="655.6" cy="93.6" r="0.72" fill="#7096D8"/>
<circle cx="651.8" cy="96.4" r="0.72" fill="#7096D8"/>
<circle cx="658.4" cy="94.5" r="0.72" fill="#7096D8"/>
<circle cx="663.1" cy="98.3" r="0.72" fill="#7096D8"/>
<circle cx="649.0" cy="101.1" r="0.72" fill="#7096D8"/>
<circle cx="654.6" cy="100.2" r="0.72" fill="#7096D8"/>
<circle cx="643.3" cy="104.0" r="0.72" fill="#7096D8"/>
<circle cx="645.2" cy="106.8" r="0.72" fill="#7096D8"/>
<circle cx="652.7" cy="104.9" r="0.72" fill="#7096D8"/>
<circle cx="659.3" cy="104.0" r="0.72" fill="#7096D8"/>
<circle cx="663.1" cy="105.8" r="0.72" fill="#7096D8"/>
<circle cx="637.6" cy="107.7" r="0.72" fill="#7096D8"/>
<circle cx="640.5" cy="109.6" r="0.72" fill="#7096D8"/>
<circle cx="649.0" cy="109.6" r="0.72" fill="#7096D8"/>
<circle cx="633.9" cy="110.6" r="0.72" fill="#7096D8"/>
<circle cx="632.0" cy="112.5" r="0.72" fill="#7096D8"/>
<circle cx="636.7" cy="112.5" r="0.72" fill="#7096D8"/>
<circle cx="643.3" cy="112.5" r="0.72" fill="#7096D8"/>
<circle cx="630.1" cy="114.3" r="0.72" fill="#7096D8"/>
<circle cx="656.5" cy="111.5" r="0.72" fill="#7096D8"/>
<circle cx="662.2" cy="112.5" r="0.72" fill="#7096D8"/>
<circle cx="672.5" cy="71.5" r="0.72" fill="#7096D8"/>
<circle cx="707.4" cy="35.7" r="0.72" fill="#F0955A"/>
<circle cx="705.5" cy="39.1" r="0.72" fill="#7096D8"/>
<circle cx="709.3" cy="39.1" r="0.72" fill="#7096D8"/>
<circle cx="707.9" cy="43.2" r="0.72" fill="#7096D8"/>
<circle cx="699.3" cy="45.1" r="0.72" fill="#7096D8"/>
<circle cx="697.4" cy="46.6" r="0.72" fill="#7096D8"/>
<circle cx="701.2" cy="46.1" r="0.72" fill="#7096D8"/>
<circle cx="697.0" cy="48.5" r="0.72" fill="#7096D8"/>
<circle cx="693.2" cy="50.8" r="0.72" fill="#7096D8"/>
<circle cx="695.1" cy="51.7" r="0.72" fill="#7096D8"/>
<circle cx="698.0" cy="54.2" r="0.72" fill="#7096D8"/>
<circle cx="699.8" cy="54.5" r="0.72" fill="#7096D8"/>
<circle cx="689.5" cy="54.9" r="0.72" fill="#7096D8"/>
<circle cx="692.3" cy="56.8" r="0.72" fill="#7096D8"/>
<circle cx="696.1" cy="59.3" r="0.72" fill="#7096D8"/>
<circle cx="698.9" cy="58.7" r="0.72" fill="#7096D8"/>
<circle cx="690.4" cy="59.3" r="0.72" fill="#7096D8"/>
<circle cx="694.2" cy="60.2" r="0.72" fill="#7096D8"/>
<circle cx="698.0" cy="60.2" r="0.72" fill="#7096D8"/>
<circle cx="681.6" cy="63.0" r="0.72" fill="#7096D8"/>
<circle cx="679.1" cy="65.5" r="0.72" fill="#7096D8"/>
<circle cx="682.9" cy="65.8" r="0.72" fill="#7096D8"/>
<circle cx="689.5" cy="66.2" r="0.72" fill="#7096D8"/>
<circle cx="698.9" cy="65.5" r="0.72" fill="#7096D8"/>
<circle cx="691.4" cy="65.5" r="0.72" fill="#7096D8"/>
<circle cx="686.7" cy="74.2" r="0.72" fill="#7096D8"/>
<circle cx="690.8" cy="71.2" r="0.72" fill="#7096D8"/>
<circle cx="695.9" cy="71.2" r="0.72" fill="#7096D8"/>
<circle cx="668.2" cy="76.3" r="0.72" fill="#7096D8"/>
<circle cx="673.3" cy="77.3" r="0.72" fill="#7096D8"/>
<circle cx="666.2" cy="80.4" r="0.72" fill="#7096D8"/>
<circle cx="681.6" cy="81.0" r="0.72" fill="#7096D8"/>
<circle cx="684.2" cy="82.5" r="0.72" fill="#7096D8"/>
<circle cx="690.8" cy="79.4" r="0.72" fill="#7096D8"/>
<circle cx="690.8" cy="83.5" r="0.72" fill="#7096D8"/>
<circle cx="662.1" cy="83.5" r="0.72" fill="#7096D8"/>
<circle cx="669.2" cy="82.5" r="0.72" fill="#7096D8"/>
<circle cx="675.4" cy="85.5" r="0.72" fill="#7096D8"/>
<circle cx="686.7" cy="86.1" r="0.72" fill="#7096D8"/>
<circle cx="665.7" cy="87.6" r="0.72" fill="#7096D8"/>
<circle cx="662.1" cy="91.3" r="0.72" fill="#7096D8"/>
<circle cx="666.2" cy="90.7" r="0.72" fill="#7096D8"/>
<circle cx="670.3" cy="91.7" r="0.72" fill="#7096D8"/>
<circle cx="680.5" cy="92.7" r="0.72" fill="#7096D8"/>
<circle cx="667.2" cy="95.8" r="0.72" fill="#7096D8"/>
<circle cx="674.4" cy="94.8" r="0.72" fill="#7096D8"/>
<circle cx="698.0" cy="96.2" r="0.72" fill="#7096D8"/>
<circle cx="668.2" cy="98.9" r="0.72" fill="#7096D8"/>
<circle cx="675.4" cy="97.8" r="0.72" fill="#7096D8"/>
<circle cx="669.2" cy="103.0" r="0.72" fill="#7096D8"/>
<circle cx="673.3" cy="102.4" r="0.72" fill="#7096D8"/>
<circle cx="686.7" cy="102.4" r="0.72" fill="#7096D8"/>
<circle cx="713.0" cy="107.7" r="0.72" fill="#7096D8"/>
<circle cx="666.2" cy="114.3" r="0.72" fill="#7096D8"/>
<circle cx="689.8" cy="114.3" r="0.72" fill="#7096D8"/>
<circle cx="662.1" cy="118.8" r="0.72" fill="#7096D8"/>
<circle cx="666.2" cy="118.8" r="0.72" fill="#7096D8"/>
<circle cx="669.2" cy="117.4" r="0.72" fill="#7096D8"/>
<circle cx="671.3" cy="118.0" r="0.72" fill="#7096D8"/>
<circle cx="676.4" cy="120.0" r="0.72" fill="#7096D8"/>
<circle cx="681.6" cy="117.4" r="0.72" fill="#7096D8"/>
<circle cx="693.9" cy="118.0" r="0.72" fill="#7096D8"/>
<circle cx="700.0" cy="120.4" r="0.72" fill="#7096D8"/>
<circle cx="703.1" cy="120.4" r="0.72" fill="#7096D8"/>
<circle cx="706.2" cy="120.4" r="0.72" fill="#7096D8"/>
<circle cx="712.4" cy="119.4" r="0.72" fill="#7096D8"/>
<circle cx="651.0" cy="60.7" r="0.72" fill="#F0955A"/>
<circle cx="627.7" cy="78.5" r="0.72" fill="#F0955A"/>
<circle cx="662.7" cy="78.5" r="0.72" fill="#F0955A"/>
<circle cx="633.2" cy="80.3" r="0.72" fill="#F0955A"/>
<circle cx="628.4" cy="80.5" r="0.72" fill="#F0955A"/>
<circle cx="648.3" cy="89.5" r="0.72" fill="#F0955A"/>
<circle cx="636.6" cy="93.6" r="0.72" fill="#F0955A"/>
<circle cx="642.1" cy="92.9" r="0.72" fill="#F0955A"/>
<circle cx="642.8" cy="95.9" r="0.72" fill="#F0955A"/>
<circle cx="641.4" cy="97.7" r="0.72" fill="#F0955A"/>
<circle cx="657.9" cy="87.4" r="0.72" fill="#7096D8"/>
<circle cx="662.0" cy="87.4" r="0.72" fill="#7096D8"/>
<circle cx="657.9" cy="89.5" r="0.72" fill="#7096D8"/>
<circle cx="660.6" cy="92.2" r="0.72" fill="#7096D8"/>
<circle cx="662.0" cy="96.3" r="0.72" fill="#7096D8"/>
<circle cx="649.7" cy="93.6" r="0.72" fill="#7096D8"/>
<circle cx="698.5" cy="52.8" r="0.72" fill="#7096D8"/>
<circle cx="696.8" cy="56.3" r="0.72" fill="#7096D8"/>
<circle cx="673.7" cy="70.0" r="0.72" fill="#7096D8"/>
<circle cx="677.1" cy="72.5" r="0.72" fill="#7096D8"/>
<circle cx="685.7" cy="76.0" r="0.72" fill="#7096D8"/>
<circle cx="663.4" cy="81.1" r="0.72" fill="#7096D8"/>
<circle cx="671.1" cy="81.1" r="0.72" fill="#7096D8"/>
<circle cx="676.3" cy="82.0" r="0.72" fill="#7096D8"/>
<circle cx="686.5" cy="82.0" r="0.72" fill="#7096D8"/>
<circle cx="684.0" cy="85.4" r="0.72" fill="#7096D8"/>
<circle cx="680.5" cy="88.8" r="0.72" fill="#7096D8"/>
<circle cx="660.9" cy="58.8" r="0.72" fill="#F0955A"/>
<circle cx="661.7" cy="76.8" r="0.72" fill="#F0955A"/>
<circle cx="622.9" cy="79.0" r="0.72" fill="#F0955A"/>
<circle cx="622.6" cy="100.8" r="0.72" fill="#F0955A"/>
<circle cx="623.7" cy="94.0" r="0.72" fill="#F0955A"/>
<circle cx="624.2" cy="47.2" r="0.72" fill="#F0955A"/>
<circle cx="623.9" cy="42.4" r="0.72" fill="#F0955A"/>
<circle cx="622.6" cy="49.6" r="0.72" fill="#F0955A"/>
<circle cx="625.4" cy="86.6" r="0.72" fill="#F0955A"/>
<circle cx="623.1" cy="58.3" r="0.72" fill="#F0955A"/>
<circle cx="625.9" cy="99.5" r="0.72" fill="#F0955A"/>
<circle cx="623.8" cy="96.5" r="0.72" fill="#F0955A"/>
<circle cx="622.5" cy="116.9" r="0.72" fill="#F0955A"/>
<circle cx="623.4" cy="111.5" r="0.72" fill="#F0955A"/>
<circle cx="622.7" cy="61.0" r="0.72" fill="#F0955A"/>
<circle cx="625.4" cy="77.7" r="0.72" fill="#F0955A"/>
<circle cx="624.5" cy="65.4" r="0.72" fill="#F0955A"/>
<circle cx="623.7" cy="100.1" r="0.72" fill="#F0955A"/>
<circle cx="622.5" cy="94.7" r="0.72" fill="#F0955A"/>
<circle cx="623.1" cy="47.5" r="0.72" fill="#F0955A"/>
<circle cx="623.9" cy="102.4" r="0.72" fill="#F0955A"/>
<circle cx="624.5" cy="78.2" r="0.72" fill="#F0955A"/>
<circle cx="623.4" cy="88.6" r="0.72" fill="#F0955A"/>
<circle cx="625.0" cy="108.4" r="0.72" fill="#F0955A"/>
<circle cx="624.5" cy="72.0" r="0.72" fill="#F0955A"/>
<circle cx="625.6" cy="93.3" r="0.72" fill="#F0955A"/>
<circle cx="623.4" cy="105.0" r="0.72" fill="#F0955A"/>
<circle cx="622.7" cy="117.1" r="0.72" fill="#F0955A"/>
<circle cx="625.2" cy="86.2" r="0.72" fill="#F0955A"/>
<circle cx="624.2" cy="62.0" r="0.72" fill="#F0955A"/>
<circle cx="624.8" cy="42.8" r="0.72" fill="#F0955A"/>
<circle cx="624.5" cy="106.8" r="0.72" fill="#F0955A"/>
<circle cx="623.5" cy="112.3" r="0.72" fill="#F0955A"/>
<circle cx="624.6" cy="103.2" r="0.72" fill="#F0955A"/>
<circle cx="624.0" cy="96.7" r="0.72" fill="#F0955A"/>
<circle cx="625.9" cy="110.6" r="0.72" fill="#F0955A"/>
<circle cx="624.8" cy="90.0" r="0.72" fill="#F0955A"/>
<circle cx="625.0" cy="47.8" r="0.72" fill="#F0955A"/>
<circle cx="626.1" cy="100.6" r="0.72" fill="#F0955A"/>
<circle cx="623.4" cy="109.7" r="0.72" fill="#F0955A"/>
<circle cx="624.0" cy="115.7" r="0.72" fill="#F0955A"/>
<circle cx="622.7" cy="114.2" r="0.72" fill="#F0955A"/>
<circle cx="623.2" cy="111.8" r="0.72" fill="#F0955A"/>
<circle cx="622.8" cy="116.4" r="0.72" fill="#F0955A"/>
<circle cx="623.1" cy="112.7" r="0.72" fill="#F0955A"/>
<circle cx="624.0" cy="117.1" r="0.72" fill="#F0955A"/>
<circle cx="622.9" cy="114.1" r="0.72" fill="#F0955A"/>
<circle cx="624.5" cy="117.2" r="0.72" fill="#F0955A"/>
<circle cx="625.5" cy="117.0" r="0.72" fill="#F0955A"/>
<circle cx="623.6" cy="113.9" r="0.72" fill="#F0955A"/>
<circle cx="623.9" cy="117.2" r="0.72" fill="#F0955A"/>
<circle cx="626.0" cy="112.1" r="0.72" fill="#F0955A"/>
<circle cx="623.2" cy="112.6" r="0.72" fill="#F0955A"/>
<circle cx="623.4" cy="114.4" r="0.72" fill="#F0955A"/>
<circle cx="624.7" cy="112.8" r="0.72" fill="#F0955A"/>
<circle cx="622.6" cy="113.9" r="0.72" fill="#F0955A"/>
<circle cx="623.9" cy="115.0" r="0.72" fill="#F0955A"/>
<circle cx="625.9" cy="115.8" r="0.72" fill="#F0955A"/>
<circle cx="624.4" cy="115.3" r="0.72" fill="#F0955A"/>
<circle cx="625.0" cy="111.4" r="0.72" fill="#F0955A"/>
<circle cx="625.7" cy="116.5" r="0.72" fill="#F0955A"/>
<circle cx="625.7" cy="116.6" r="0.72" fill="#F0955A"/>
<circle cx="626.7" cy="117.9" r="0.72" fill="#4A72C0"/>
<circle cx="623.0" cy="118.8" r="0.72" fill="#4A72C0"/>
<circle cx="622.8" cy="116.7" r="0.72" fill="#4A72C0"/>
<circle cx="624.0" cy="117.1" r="0.72" fill="#4A72C0"/>
<circle cx="625.8" cy="116.7" r="0.72" fill="#4A72C0"/>
<circle cx="622.6" cy="117.0" r="0.72" fill="#4A72C0"/>
<circle cx="623.0" cy="117.8" r="0.72" fill="#4A72C0"/>
<circle cx="622.6" cy="119.6" r="0.72" fill="#4A72C0"/>
<circle cx="631.3" cy="117.0" r="0.72" fill="#4A72C0"/>
<circle cx="624.5" cy="117.8" r="0.72" fill="#4A72C0"/>
<circle cx="626.2" cy="116.9" r="0.72" fill="#4A72C0"/>
<circle cx="637.7" cy="120.1" r="0.72" fill="#4A72C0"/>
<circle cx="628.1" cy="118.2" r="0.72" fill="#4A72C0"/>
<circle cx="622.9" cy="116.9" r="0.72" fill="#4A72C0"/>
<circle cx="625.8" cy="117.5" r="0.72" fill="#4A72C0"/>
<circle cx="637.1" cy="117.1" r="0.72" fill="#4A72C0"/>
<circle cx="622.6" cy="119.9" r="0.72" fill="#4A72C0"/>
<circle cx="629.4" cy="117.0" r="0.72" fill="#4A72C0"/>
<circle cx="629.7" cy="116.6" r="0.72" fill="#4A72C0"/>
<circle cx="629.4" cy="120.0" r="0.72" fill="#4A72C0"/>
<circle cx="638.2" cy="119.0" r="0.72" fill="#4A72C0"/>
<circle cx="624.6" cy="117.8" r="0.72" fill="#4A72C0"/>
<circle cx="623.6" cy="119.3" r="0.72" fill="#4A72C0"/>
<circle cx="629.5" cy="119.3" r="0.72" fill="#4A72C0"/>
<circle cx="625.6" cy="117.3" r="0.72" fill="#4A72C0"/>
<circle cx="636.6" cy="120.0" r="0.72" fill="#4A72C0"/>
<circle cx="637.9" cy="119.4" r="0.72" fill="#4A72C0"/>
<circle cx="636.8" cy="119.2" r="0.72" fill="#4A72C0"/>
<circle cx="624.2" cy="118.4" r="0.72" fill="#4A72C0"/>
<circle cx="626.0" cy="116.6" r="0.72" fill="#4A72C0"/>
<circle cx="622.6" cy="117.5" r="0.72" fill="#4A72C0"/>
<circle cx="624.6" cy="119.0" r="0.72" fill="#4A72C0"/>
<circle cx="641.1" cy="118.1" r="0.72" fill="#4A72C0"/>
<circle cx="640.5" cy="120.1" r="0.72" fill="#4A72C0"/>
<circle cx="641.1" cy="117.8" r="0.72" fill="#4A72C0"/>
<circle cx="624.1" cy="117.3" r="0.72" fill="#4A72C0"/>
<circle cx="623.9" cy="117.2" r="0.72" fill="#4A72C0"/>
<circle cx="631.6" cy="119.7" r="0.72" fill="#4A72C0"/>
<circle cx="637.5" cy="118.2" r="0.72" fill="#4A72C0"/>
<circle cx="632.3" cy="119.4" r="0.72" fill="#4A72C0"/>
<circle cx="622.9" cy="118.9" r="0.72" fill="#4A72C0"/>
<circle cx="639.6" cy="119.3" r="0.72" fill="#4A72C0"/>
<circle cx="634.9" cy="118.2" r="0.72" fill="#4A72C0"/>
<circle cx="623.7" cy="119.3" r="0.72" fill="#4A72C0"/>
<circle cx="625.7" cy="119.4" r="0.72" fill="#4A72C0"/>
<circle cx="641.6" cy="117.9" r="0.72" fill="#4A72C0"/>
<circle cx="626.8" cy="119.9" r="0.72" fill="#4A72C0"/>
<circle cx="634.2" cy="117.1" r="0.72" fill="#4A72C0"/>
<circle cx="623.2" cy="117.0" r="0.72" fill="#4A72C0"/>
<circle cx="639.5" cy="119.4" r="0.72" fill="#4A72C0"/>
<circle cx="623.4" cy="119.5" r="0.72" fill="#4A72C0"/>
<circle cx="641.9" cy="118.9" r="0.72" fill="#4A72C0"/>
<circle cx="626.0" cy="118.5" r="0.72" fill="#4A72C0"/>
<circle cx="623.2" cy="116.6" r="0.72" fill="#4A72C0"/>
<circle cx="641.6" cy="118.8" r="0.72" fill="#4A72C0"/>
<circle cx="629.3" cy="119.9" r="0.72" fill="#4A72C0"/>
<circle cx="627.4" cy="119.6" r="0.72" fill="#4A72C0"/>
<circle cx="637.1" cy="117.3" r="0.72" fill="#4A72C0"/>
<circle cx="624.5" cy="117.6" r="0.72" fill="#4A72C0"/>
<circle cx="624.4" cy="118.6" r="0.72" fill="#4A72C0"/>
<circle cx="624.6" cy="118.0" r="0.72" fill="#4A72C0"/>
<circle cx="623.2" cy="119.8" r="0.72" fill="#4A72C0"/>
<circle cx="626.0" cy="118.1" r="0.72" fill="#4A72C0"/>
<circle cx="630.6" cy="119.8" r="0.72" fill="#4A72C0"/>
<circle cx="627.2" cy="119.8" r="0.72" fill="#4A72C0"/>
<circle cx="628.8" cy="118.4" r="0.72" fill="#4A72C0"/>
<circle cx="629.3" cy="116.6" r="0.72" fill="#4A72C0"/>
<circle cx="627.6" cy="117.2" r="0.72" fill="#4A72C0"/>
<circle cx="622.6" cy="119.4" r="0.72" fill="#4A72C0"/>
<circle cx="623.6" cy="118.2" r="0.72" fill="#4A72C0"/>
<circle cx="634.2" cy="118.5" r="0.72" fill="#4A72C0"/>
<circle cx="625.6" cy="118.4" r="0.72" fill="#4A72C0"/>
<circle cx="630.0" cy="119.3" r="0.72" fill="#4A72C0"/>
<circle cx="623.0" cy="118.5" r="0.72" fill="#4A72C0"/>
<circle cx="624.5" cy="117.5" r="0.72" fill="#4A72C0"/>
<circle cx="635.5" cy="118.3" r="0.72" fill="#4A72C0"/>
<circle cx="630.1" cy="119.2" r="0.72" fill="#4A72C0"/>
<circle cx="639.7" cy="118.1" r="0.72" fill="#4A72C0"/>
<circle cx="631.3" cy="118.3" r="0.72" fill="#4A72C0"/>
<circle cx="629.0" cy="119.0" r="0.72" fill="#4A72C0"/>
<circle cx="650.0" cy="118.2" r="0.72" fill="#7096D8"/>
<circle cx="652.5" cy="119.7" r="0.72" fill="#7096D8"/>
<circle cx="678.5" cy="119.5" r="0.72" fill="#7096D8"/>
<circle cx="715.8" cy="117.2" r="0.72" fill="#7096D8"/>
<circle cx="661.2" cy="119.7" r="0.72" fill="#7096D8"/>
<circle cx="699.1" cy="116.8" r="0.72" fill="#7096D8"/>
<circle cx="628.3" cy="117.9" r="0.72" fill="#7096D8"/>
<circle cx="626.9" cy="117.2" r="0.72" fill="#7096D8"/>
<circle cx="626.9" cy="118.7" r="0.72" fill="#7096D8"/>
<circle cx="690.5" cy="119.5" r="0.72" fill="#7096D8"/>
<circle cx="629.5" cy="118.9" r="0.72" fill="#7096D8"/>
<circle cx="673.4" cy="116.8" r="0.72" fill="#7096D8"/>
<circle cx="705.9" cy="119.8" r="0.72" fill="#7096D8"/>
<circle cx="632.5" cy="119.7" r="0.72" fill="#7096D8"/>
<circle cx="645.1" cy="118.1" r="0.72" fill="#7096D8"/>
<circle cx="724.2" cy="119.3" r="0.72" fill="#7096D8"/>
<circle cx="629.8" cy="117.9" r="0.72" fill="#7096D8"/>
<circle cx="656.4" cy="117.5" r="0.72" fill="#7096D8"/>
<circle cx="631.3" cy="117.4" r="0.72" fill="#7096D8"/>
<circle cx="681.7" cy="116.4" r="0.72" fill="#7096D8"/>
<circle cx="660.5" cy="117.9" r="0.72" fill="#7096D8"/>
<circle cx="626.1" cy="117.5" r="0.72" fill="#7096D8"/>
<circle cx="668.8" cy="118.1" r="0.72" fill="#7096D8"/>
<circle cx="626.7" cy="119.8" r="0.72" fill="#7096D8"/>
<circle cx="691.2" cy="119.8" r="0.72" fill="#7096D8"/>
<circle cx="627.7" cy="117.3" r="0.72" fill="#7096D8"/>
<circle cx="626.3" cy="119.1" r="0.72" fill="#7096D8"/>
<circle cx="635.5" cy="116.8" r="0.72" fill="#7096D8"/>
<circle cx="647.2" cy="119.6" r="0.72" fill="#7096D8"/>
<circle cx="695.8" cy="117.2" r="0.72" fill="#7096D8"/>
<circle cx="629.3" cy="119.6" r="0.72" fill="#7096D8"/>
<circle cx="662.4" cy="118.8" r="0.72" fill="#7096D8"/>
<circle cx="627.3" cy="116.5" r="0.72" fill="#7096D8"/>
<circle cx="677.0" cy="117.8" r="0.72" fill="#7096D8"/>
<circle cx="626.9" cy="119.7" r="0.72" fill="#7096D8"/>
<circle cx="670.1" cy="119.2" r="0.72" fill="#7096D8"/>
<circle cx="627.2" cy="119.4" r="0.72" fill="#7096D8"/>
<circle cx="626.8" cy="119.4" r="0.72" fill="#7096D8"/>
<circle cx="650.1" cy="117.5" r="0.72" fill="#7096D8"/>
<circle cx="660.4" cy="119.6" r="0.72" fill="#7096D8"/>
<circle cx="635.3" cy="116.8" r="0.72" fill="#7096D8"/>
<circle cx="657.6" cy="117.2" r="0.72" fill="#7096D8"/>
<circle cx="627.9" cy="116.9" r="0.72" fill="#7096D8"/>
<circle cx="626.5" cy="117.0" r="0.72" fill="#7096D8"/>
<circle cx="638.3" cy="117.4" r="0.72" fill="#7096D8"/>
<circle cx="646.8" cy="110.9" r="0.72" fill="#7096D8"/>
<circle cx="639.0" cy="109.8" r="0.72" fill="#7096D8"/>
<circle cx="634.4" cy="108.2" r="0.72" fill="#7096D8"/>
<circle cx="646.0" cy="113.5" r="0.72" fill="#7096D8"/>
<circle cx="629.7" cy="112.7" r="0.72" fill="#7096D8"/>
<circle cx="652.0" cy="109.1" r="0.72" fill="#7096D8"/>
<circle cx="648.6" cy="112.3" r="0.72" fill="#7096D8"/>
<circle cx="638.9" cy="116.3" r="0.72" fill="#7096D8"/>
<circle cx="635.8" cy="113.1" r="0.72" fill="#7096D8"/>
<circle cx="644.6" cy="117.8" r="0.72" fill="#7096D8"/>
<circle cx="634.3" cy="116.3" r="0.72" fill="#7096D8"/>
<circle cx="645.2" cy="114.4" r="0.72" fill="#7096D8"/>
<circle cx="636.1" cy="111.5" r="0.72" fill="#7096D8"/>
<circle cx="626.5" cy="116.4" r="0.72" fill="#7096D8"/>
<circle cx="650.1" cy="114.7" r="0.72" fill="#7096D8"/>
<circle cx="632.5" cy="110.4" r="0.72" fill="#7096D8"/>
<circle cx="632.8" cy="112.6" r="0.72" fill="#7096D8"/>
<circle cx="631.9" cy="117.6" r="0.72" fill="#7096D8"/>
<circle cx="653.2" cy="113.5" r="0.72" fill="#7096D8"/>
<circle cx="631.3" cy="117.7" r="0.72" fill="#7096D8"/>
<circle cx="633.3" cy="111.6" r="0.72" fill="#7096D8"/>
<circle cx="638.2" cy="113.0" r="0.72" fill="#7096D8"/>
<circle cx="630.0" cy="113.0" r="0.72" fill="#7096D8"/>
<line x1="626.50" y1="18.50" x2="626.50" y2="120.50" stroke="#808080" stroke-width="0.9"/>
<line x1="622.50" y1="117.50" x2="725.00" y2="117.50" stroke="#808080" stroke-width="0.9"/>
<text transform="translate(614.80 123.70) scale(1 1.08)" font-size="9.6" text-anchor="end" fill="#262626" stroke="#262626" stroke-width="0.08">0</text>
<text transform="translate(622.30 135.40) scale(1 1.08)" font-size="9.5" text-anchor="middle" fill="#262626" stroke="#262626" stroke-width="0.08">0</text>
<text transform="translate(614.80 90.00) scale(1 1.08)" font-size="9.6" text-anchor="end" fill="#262626" stroke="#262626" stroke-width="0.08">1000</text>
<text transform="translate(656.75 135.40) scale(1 1.08)" font-size="9.5" text-anchor="middle" fill="#262626" stroke="#262626" stroke-width="0.08">1000</text>
<text transform="translate(614.80 56.30) scale(1 1.08)" font-size="9.6" text-anchor="end" fill="#262626" stroke="#262626" stroke-width="0.08">2000</text>
<text transform="translate(691.20 135.40) scale(1 1.08)" font-size="9.5" text-anchor="middle" fill="#262626" stroke="#262626" stroke-width="0.08">2000</text>
<text transform="translate(614.80 22.60) scale(1 1.08)" font-size="9.6" text-anchor="end" fill="#262626" stroke="#262626" stroke-width="0.08">3000</text>
<text transform="translate(725.65 135.40) scale(1 1.08)" font-size="9.5" text-anchor="middle" fill="#262626" stroke="#262626" stroke-width="0.08">3000</text>
<text transform="translate(674.00 148.40) scale(1 1.04)" font-size="10.5" text-anchor="middle" fill="#262626" stroke="#262626" stroke-width="0.08">CTD rank</text>
<text transform="translate(590.20 68.60) rotate(-90) scale(1 1.04)" font-size="10.7" text-anchor="middle" fill="#262626" stroke="#262626" stroke-width="0.08">TTD rank</text>
<text transform="translate(564.00 21.90) scale(1 1.04)" font-size="13.5" text-anchor="start" fill="#000" stroke="#000" stroke-width="0.08">D</text>
<line x1="607.40" y1="239.10" x2="747.00" y2="239.10" stroke="#e6e6e6" stroke-width="1"/>
<line x1="607.40" y1="218.10" x2="747.00" y2="218.10" stroke="#e6e6e6" stroke-width="1"/>
<line x1="607.40" y1="197.60" x2="747.00" y2="197.60" stroke="#e6e6e6" stroke-width="1"/>
<line x1="607.40" y1="177.10" x2="747.00" y2="177.10" stroke="#e6e6e6" stroke-width="1"/>
<line x1="607.40" y1="156.60" x2="747.00" y2="156.60" stroke="#e6e6e6" stroke-width="1"/>
<text transform="translate(600.80 242.20) scale(1 1.08)" font-size="10" text-anchor="end" fill="#262626" stroke="#262626" stroke-width="0.08">0</text>
<text transform="translate(600.80 221.70) scale(1 1.08)" font-size="10" text-anchor="end" fill="#262626" stroke="#262626" stroke-width="0.08">50</text>
<text transform="translate(600.80 201.20) scale(1 1.08)" font-size="10" text-anchor="end" fill="#262626" stroke="#262626" stroke-width="0.08">100</text>
<text transform="translate(600.80 180.70) scale(1 1.08)" font-size="10" text-anchor="end" fill="#262626" stroke="#262626" stroke-width="0.08">150</text>
<text transform="translate(600.80 160.20) scale(1 1.08)" font-size="10" text-anchor="end" fill="#262626" stroke="#262626" stroke-width="0.08">200</text>
<rect x="611" y="217.3" width="12.90" height="21.30" fill="#C55A11"/>
<rect x="628.3" y="196.2" width="12.80" height="42.40" fill="#2F5597"/>
<rect x="645.2" y="235.3" width="13.50" height="3.30" fill="#0d0d0d"/>
<rect x="662.5" y="214.8" width="12.90" height="23.80" fill="#ED7D31"/>
<rect x="679.7" y="204.9" width="12.80" height="33.70" fill="#4472C4"/>
<rect x="696.8" y="198.9" width="13.00" height="39.70" fill="#F1955C"/>
<rect x="714.1" y="167.7" width="12.90" height="70.90" fill="#7D9FDE"/>
<rect x="731.7" y="238.0" width="12.60" height="0.60" fill="#595959"/>
<line x1="609.70" y1="238.60" x2="609.70" y2="277.00" stroke="#e6e6e6" stroke-width="1"/>
<line x1="660.60" y1="238.60" x2="660.60" y2="277.00" stroke="#e6e6e6" stroke-width="1"/>
<line x1="694.60" y1="238.60" x2="694.60" y2="277.00" stroke="#e6e6e6" stroke-width="1"/>
<line x1="746.30" y1="238.60" x2="746.30" y2="277.00" stroke="#e6e6e6" stroke-width="1"/>
<text transform="translate(617.50 251.20)" font-size="8.4" text-anchor="middle" fill="#262626" stroke="#262626" stroke-width="0.08">CTD</text>
<text transform="translate(633.70 251.20)" font-size="8.4" text-anchor="middle" fill="#262626" stroke="#262626" stroke-width="0.08">TTD</text>
<text transform="translate(652.30 251.20)" font-size="8.4" text-anchor="middle" fill="#262626" stroke="#262626" stroke-width="0.08">Tie</text>
<text transform="translate(669.20 251.20)" font-size="8.4" text-anchor="middle" fill="#262626" stroke="#262626" stroke-width="0.08">CTD</text>
<text transform="translate(685.40 251.20)" font-size="8.4" text-anchor="middle" fill="#262626" stroke="#262626" stroke-width="0.08">TTD</text>
<text transform="translate(702.60 251.20)" font-size="8.4" text-anchor="middle" fill="#262626" stroke="#262626" stroke-width="0.08">CTD</text>
<text transform="translate(719.20 251.20)" font-size="8.4" text-anchor="middle" fill="#262626" stroke="#262626" stroke-width="0.08">TTD</text>
<text transform="translate(737.30 251.20)" font-size="8.4" text-anchor="middle" fill="#262626" stroke="#262626" stroke-width="0.08">Tie</text>
<text transform="translate(634.80 263.30) scale(1 1.08)" font-size="9.5" text-anchor="middle" fill="#262626" stroke="#262626" stroke-width="0.08">Both</text>
<text transform="translate(634.80 274.50) scale(1 1.08)" font-size="9.5" text-anchor="middle" fill="#262626" stroke="#262626" stroke-width="0.08">&lt;100</text>
<text transform="translate(676.90 263.30) scale(1 1.08)" font-size="9.5" text-anchor="middle" fill="#262626" stroke="#262626" stroke-width="0.08">One</text>
<text transform="translate(676.90 274.50) scale(1 1.08)" font-size="9.5" text-anchor="middle" fill="#262626" stroke="#262626" stroke-width="0.08">&lt;100</text>
<text transform="translate(720.40 263.30) scale(1 1.08)" font-size="9.5" text-anchor="middle" fill="#262626" stroke="#262626" stroke-width="0.08">Neither</text>
<text transform="translate(720.40 274.50) scale(1 1.08)" font-size="9.5" text-anchor="middle" fill="#262626" stroke="#262626" stroke-width="0.08">&lt;100</text>
<text transform="translate(579.50 250.80) scale(1 1.08)" font-size="9.3" text-anchor="middle" fill="#262626" stroke="#262626" stroke-width="0.08">Better rank</text>
<text transform="translate(581.50 268.90) scale(1 1.08)" font-size="9.3" text-anchor="middle" fill="#262626" stroke="#262626" stroke-width="0.08">Bracket</text>
<text transform="translate(581.00 198.00) rotate(-90) scale(1 1.04)" font-size="10.3" text-anchor="middle" fill="#262626" stroke="#262626" stroke-width="0.08"># associations</text>
<text transform="translate(564.00 154.20) scale(1 1.04)" font-size="13.5" text-anchor="start" fill="#000" stroke="#000" stroke-width="0.08">E</text>
</svg></body></html>
